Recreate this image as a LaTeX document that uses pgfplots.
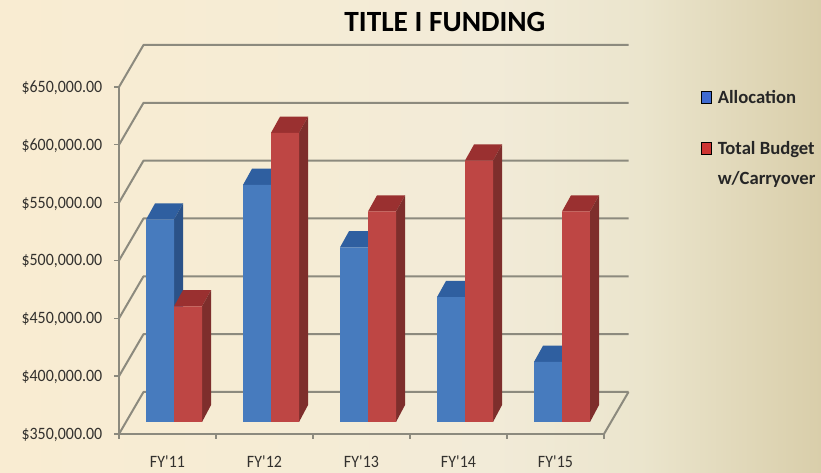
\documentclass[border=0pt]{standalone}
\usepackage{pgfplots}
\pgfplotsset{compat=1.18}
\usepackage{pgfplotstable}
\usepackage{fontspec}
\setmainfont{Carlito}
\newfontfamily\tickfont[FakeStretch=0.92]{Carlito}

% 1 px of the reference = 0.75pt
\definecolor{wallline}{HTML}{8C8A7E}
\definecolor{labeltxt}{HTML}{33312E}
\definecolor{bluefront}{HTML}{4F84C4}
\definecolor{blueedge}{HTML}{477BBE}
\definecolor{bluetop}{HTML}{2F5FA0}
\definecolor{blueside}{HTML}{2B5288}
\definecolor{redfront}{HTML}{C4524C}
\definecolor{rededge}{HTML}{BE4644}
\definecolor{redtop}{HTML}{9A3030}
\definecolor{redside}{HTML}{7E2E2C}
\definecolor{bgA}{HTML}{F9ECD2}
\definecolor{bgB}{HTML}{F6ECD4}
\definecolor{bgC}{HTML}{F2EBD8}
\definecolor{bgE}{HTML}{EBE5CD}
\definecolor{bgD}{HTML}{D9CEAA}
\pgfdeclarehorizontalshading{pagebg}{100bp}{
  color(0bp)=(bgA); color(25bp)=(bgA); color(40bp)=(bgB); color(55bp)=(bgC); color(64bp)=(bgE); color(75bp)=(bgD); color(100bp)=(bgD)}

\pgfplotstableread{
i alloc total
0 525000 450000
1 555000 600000
2 501000 532000
3 458000 576000
4 402000 532000
}\fundtbl

% back wall line at one y level
\newcommand{\wallline}[1]{%
  \edef\tmp{\noexpand\addplot[forget plot,wallline,line width=1.5pt,line join=round]
    coordinates {(-0.5,#1) (-0.2474,\the\numexpr#1+36313\relax) (4.7526,\the\numexpr#1+36313\relax)};}\tmp}

% top and side faces of a bar: left x, value, top colour, side colour
\newcommand{\depthfaces}[4]{%
  \pgfmathsetmacro\xa{#1}\pgfmathsetmacro\xb{#1+0.2887}%
  \pgfmathsetmacro\xc{#1+0.0928}\pgfmathsetmacro\xd{#1+0.2887+0.0928}%
  \edef\vb{\the\numexpr#2+14000\relax}\edef\bb{\the\numexpr350000+14700\relax}%
  \edef\tmp{\noexpand\addplot[forget plot,fill=#3,draw=none,xshift=4.9pt,yshift=9pt]
    coordinates {(\xa,#2) (\xb,#2) (\xd,\vb) (\xc,\vb)} --cycle;
    \noexpand\addplot[forget plot,fill=#4,draw=none,xshift=4.9pt,yshift=9pt]
    coordinates {(\xb,350000) (\xd,\bb) (\xd,\vb) (\xb,#2)} --cycle;}\tmp}

\begin{document}
\begin{tikzpicture}
\useasboundingbox (0,0) rectangle (615.75pt,354.75pt);
\shade[shading=pagebg] (0,0) rectangle (615.75pt,354.75pt);
\begin{axis}[
  at={(89.25pt,29.25pt)}, anchor=south west,
  scale only axis, width=363.75pt, height=260.25pt,
  clip=false,
  xmin=-0.5, xmax=4.5, ymin=350000, ymax=650000,
  scaled y ticks=false,
  axis lines*=left,
  axis line style={wallline,line width=1.5pt,-},
  xtick={0,1,2,3,4},
  xticklabels={FY\textquotesingle11,FY\textquotesingle12,FY\textquotesingle13,FY\textquotesingle14,FY\textquotesingle15},
  minor xtick={-0.5,0.5,1.5,2.5,3.5,4.5},
  ytick={350000,400000,450000,500000,550000,600000,650000},
  yticklabels={{\$350,000.00},{\$400,000.00},{\$450,000.00},{\$500,000.00},{\$550,000.00},{\$600,000.00},{\$650,000.00}},
  tick align=outside,
  major tick length=3.5pt, minor tick length=3.5pt,
  x tick style={draw=none},
  y tick style={wallline,line width=1pt},
  minor x tick style={wallline,line width=1pt,draw=wallline},
  tick label style={font=\tickfont\fontsize{13}{15}\selectfont,text=labeltxt},
  xticklabel style={yshift=-9.5pt},
  yticklabel style={xshift=-5.5pt,yshift=-0.7pt},
  title={TITLE I FUNDING},
  title style={at={(axis description cs:0.672,1.165)},anchor=center,font=\fontsize{22}{24}\selectfont\bfseries},
  legend style={at={(axis description cs:1.2,0.9986)},anchor=north west,draw=none,fill=none,
    font=\fontsize{14}{22}\selectfont\bfseries,text=black!85,row sep=22.75pt,column sep=2.5pt,
    cells={anchor=north west,align=left},inner sep=0pt},
  legend image code/.code={\fill[#1] (0pt,-11.5pt) rectangle (7.5pt,-2.5pt);},
]
  \pgfplotsinvokeforeach{350000,400000,450000,500000,550000,600000,650000}{\wallline{#1}}
  \addplot[forget plot,wallline,line width=1.5pt]
    coordinates {(4.5,350000) (4.7526,386313)};

  \pgfplotsinvokeforeach{0,1,2,3,4}{
    \pgfplotstablegetelem{#1}{alloc}\of\fundtbl \let\va\pgfplotsretval
    \pgfplotstablegetelem{#1}{total}\of\fundtbl \let\vt\pgfplotsretval
    \depthfaces{#1-0.2887}{\va}{bluetop}{blueside}
    \depthfaces{#1}{\vt}{redtop}{redside}
  }
  \addplot[forget plot,ybar,bar width=21pt,bar shift=-10.5pt,xshift=4.9pt,yshift=9pt,draw=none,
    left color=blueedge,middle color=bluefront,right color=blueedge]
    table[x=i,y=alloc] {\fundtbl};
  \addplot[forget plot,ybar,bar width=21pt,bar shift=10.5pt,xshift=4.9pt,yshift=9pt,draw=none,
    left color=rededge,middle color=redfront,right color=rededge]
    table[x=i,y=total] {\fundtbl};

  \addlegendimage{fill=blue!20!bluefront}
  \addlegendentry{Allocation}
  \addlegendimage{fill=red!25!rededge}
  \addlegendentry{Total Budget\\w/Carryover}
\end{axis}
\end{tikzpicture}
\end{document}
